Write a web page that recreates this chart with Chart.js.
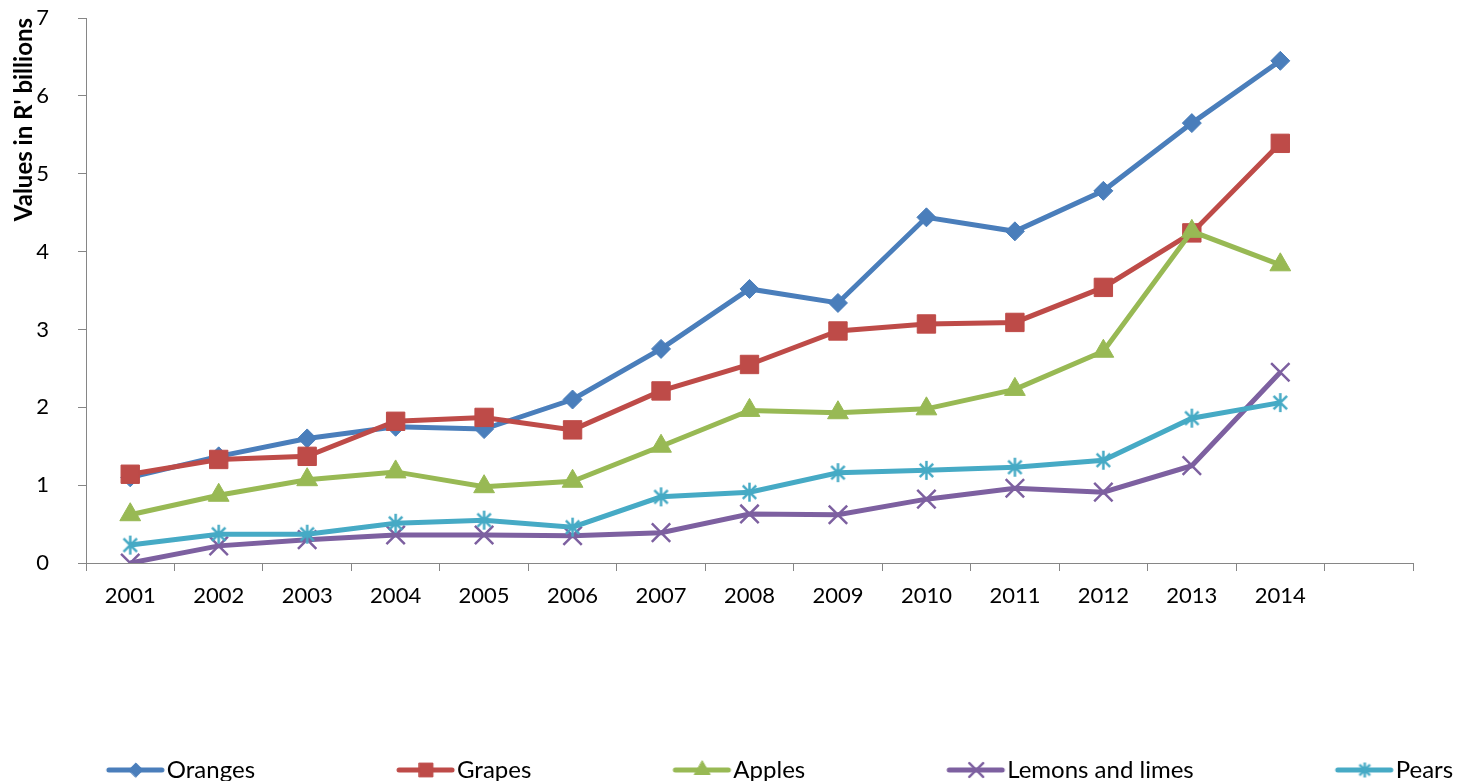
<!DOCTYPE html>
<html>
<head>
<meta charset="utf-8">
<script src="https://cdn.jsdelivr.net/npm/chart.js@4.4.1/dist/chart.umd.min.js"></script>
<style>
  html, body { margin: 0; padding: 0; background: #fff; overflow: hidden; }
  #wrap { position: relative; width: 1470px; height: 792px; }
</style>
</head>
<body>
<div id="wrap"><canvas id="chart"></canvas></div>
<script>
// values in R' billions
const years = ['2001', '2002', '2003', '2004', '2005', '2006', '2007', '2008', '2009', '2010', '2011', '2012', '2013', '2014', ''];
const oranges = [1.10, 1.37, 1.60, 1.75, 1.72, 2.10, 2.75, 3.52, 3.34, 4.44, 4.26, 4.78, 5.65, 6.45];
const grapes = [1.14, 1.33, 1.37, 1.82, 1.87, 1.71, 2.21, 2.55, 2.98, 3.07, 3.09, 3.54, 4.24, 5.39];
const apples = [0.62, 0.87, 1.07, 1.17, 0.98, 1.05, 1.50, 1.96, 1.93, 1.98, 2.23, 2.72, 4.26, 3.83];
const lemons = [0.00, 0.22, 0.30, 0.36, 0.36, 0.35, 0.39, 0.63, 0.62, 0.82, 0.96, 0.91, 1.25, 2.45];
const pears = [0.23, 0.37, 0.37, 0.51, 0.55, 0.46, 0.85, 0.91, 1.16, 1.19, 1.23, 1.32, 1.86, 2.06];
const yTicks = [0, 1, 2, 3, 4, 5, 6, 7];

const FONT = 'Lato';
const AXIS = '#868686';
const H = 792;            // canvas is a bit taller than the window, legend gets clipped like the original
const PLOT_BOTTOM = 563;
const LEGEND_FONT = 24;
const LEGEND_PAD = 2;
const LEGEND_BOX = 188;   // wide box = big gap between legend entries
const LEGEND_SHIFT = -45;

// excel style asterisk: vertical bar + x
function asterisk(size, color, lw) {
    const c = document.createElement('canvas');
    c.width = size;
    c.height = size;
    const g = c.getContext('2d');
    const m = size / 2, r = size / 2 - 1;
    const d = r * Math.SQRT1_2;
    g.strokeStyle = color;
    g.lineWidth = lw;
    g.beginPath();
    g.moveTo(m, m - r); g.lineTo(m, m + r);
    g.moveTo(m - d, m - d); g.lineTo(m + d, m + d);
    g.moveTo(m - d, m + d); g.lineTo(m + d, m - d);
    g.stroke();
    return c;
}

function series(label, data, color, style, radius, bw, order) {
    return {
        label, data, order,
        borderColor: color,
        backgroundColor: color,
        pointBackgroundColor: color,
        pointBorderColor: color,
        borderWidth: 5,
        pointStyle: style,
        pointRadius: radius,
        pointHoverRadius: radius,
        pointBorderWidth: bw,
        tension: 0
    };
}

const datasets = [
    series('Oranges', oranges, '#4A7EBB', 'rectRot', 9.5, 1, 5),
    series('Grapes', grapes, '#BE4B48', 'rect', 13, 1, 4),
    series('Apples', apples, '#98B954', 'triangle', 12, 1, 3),
    series('Lemons and limes', lemons, '#7D60A0', 'crossRot', 13, 2.5, 2),
    series('Pears', pears, '#46AAC5', asterisk(21, '#46AAC5', 2.5), 10, 2.5, 1)
];

// line + marker icon, drawn in the right end of the (wide) legend box
function legendIcon(ds) {
    const w = LEGEND_BOX + LEGEND_FONT;
    const c = document.createElement('canvas');
    c.width = w;
    c.height = 24;
    const g = c.getContext('2d');
    g.strokeStyle = ds.borderColor;
    g.fillStyle = ds.borderColor;
    g.lineWidth = 5;
    g.lineCap = 'round';
    g.beginPath();
    g.moveTo(w - 58, 12);
    g.lineTo(w - 5, 12);
    g.stroke();
    if (typeof ds.pointStyle === 'string') {
        g.lineWidth = ds.pointBorderWidth;
        Chart.helpers.drawPoint(g, {
            pointStyle: ds.pointStyle,
            radius: ds.pointRadius * 0.75,
            borderWidth: ds.pointBorderWidth,
            rotation: 0
        }, w - 31, 12);
    } else {
        g.drawImage(asterisk(17, ds.borderColor, 2.5), w - 31 - 8.5, 12 - 8.5);
    }
    return c;
}

const legendShift = {
    id: 'legendShift',
    afterLayout(chart) {
        chart.legend.left += LEGEND_SHIFT;
        chart.legend.right += LEGEND_SHIFT;
    }
};

const ctx = document.getElementById('chart').getContext('2d');
new Chart(ctx, {
    type: 'line',
    data: { labels: years, datasets },
    plugins: [legendShift],
    options: {
        responsive: true,
        maintainAspectRatio: false,
        animation: false,
        layout: { padding: { top: 18, right: -40, left: 0, bottom: 0 } },
        plugins: {
            tooltip: { enabled: false },
            legend: {
                position: 'bottom',
                labels: {
                    usePointStyle: true,
                    pointStyleWidth: LEGEND_BOX,
                    padding: LEGEND_PAD,
                    color: '#000',
                    font: { family: FONT, size: LEGEND_FONT },
                    generateLabels: (chart) => chart.data.datasets.map((ds, i) => ({
                        text: ds.label,
                        datasetIndex: i,
                        pointStyle: legendIcon(ds),
                        fillStyle: ds.borderColor,
                        strokeStyle: ds.borderColor,
                        lineWidth: 0,
                        hidden: false
                    }))
                }
            }
        },
        scales: {
            x: {
                offset: true,
                afterFit: (s) => { s.height = H - (LEGEND_FONT + LEGEND_PAD + 10) - PLOT_BOTTOM; },
                grid: {
                    offset: true,
                    drawOnChartArea: false,
                    color: AXIS,
                    tickLength: 8
                },
                border: { color: AXIS, width: 1 },
                ticks: {
                    padding: 12,
                    color: '#000',
                    maxRotation: 0,
                    autoSkip: false,
                    font: { family: FONT, size: 22 }
                }
            },
            y: {
                min: 0,
                max: 7,
                afterFit: (s) => { s.width = 86; s.paddingTop = 0; s.paddingBottom = 0; },
                afterBuildTicks: (s) => { s.ticks = yTicks.map(v => ({ value: v })); },
                grid: {
                    drawOnChartArea: false,
                    color: AXIS,
                    tickLength: 8
                },
                border: { color: AXIS, width: 1 },
                ticks: {
                    padding: 29,
                    color: '#000',
                    font: { family: FONT, size: 22 }
                },
                title: {
                    display: true,
                    text: "Values in R' billions",
                    align: 'end',
                    color: '#000',
                    padding: { top: 10, bottom: 0 },
                    font: { family: FONT, size: 24, weight: 'bold' }
                }
            },
            // empty axis that only keeps the space right of the plot
            yRight: {
                type: 'linear',
                position: 'right',
                afterFit: (s) => { s.width = 97; s.paddingTop = 0; s.paddingBottom = 0; },
                grid: { display: false },
                border: { display: false },
                ticks: { display: false }
            }
        }
    }
});
</script>
</body>
</html>
